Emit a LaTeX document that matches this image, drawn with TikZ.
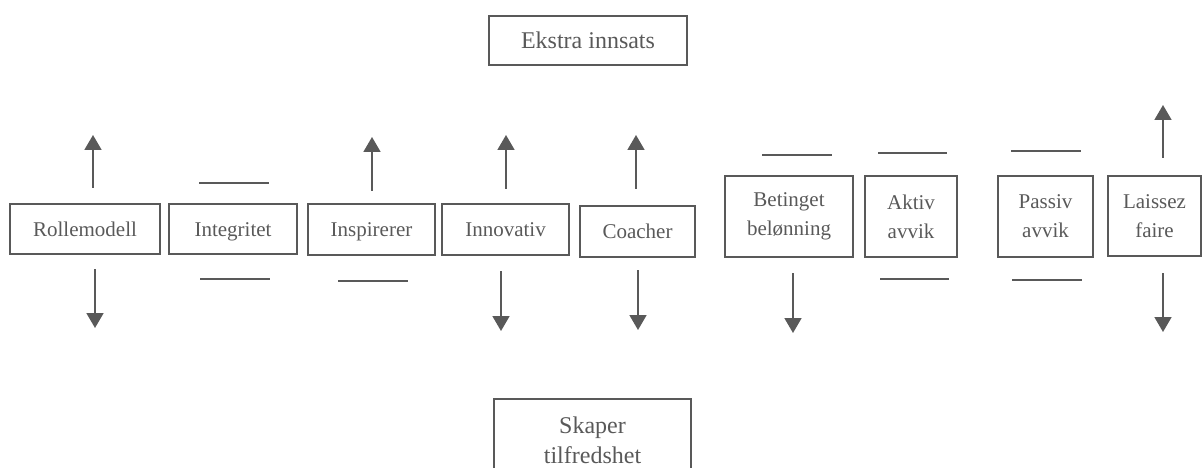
\documentclass[tikz,border=0pt]{standalone}
\usepackage{fontspec}
\setmainfont{Liberation Serif}
\usetikzlibrary{arrows.meta}
\definecolor{ink}{HTML}{595959}
\begin{document}
\begin{tikzpicture}[x=1pt,y=-1pt,
  box/.style={draw=ink,line width=1.8pt,text=ink,inner sep=0pt,align=center,
              font=\fontsize{21}{29}\selectfont},
  one/.style={text height=14.3pt,text depth=0pt},
  big/.style={font=\fontsize{24}{30}\selectfont},
  arr/.style={draw=ink,line width=1.8pt,-{Triangle[width=17pt,length=15pt]}},
  bar/.style={draw=ink,line width=1.8pt}]
\useasboundingbox (0,0) rectangle (1203,468);
\clip (0,0) rectangle (1203,468);

% top and bottom boxes
\node[box,big,minimum width=198,minimum height=49] (ekstra) at (588,40.5) {Ekstra innsats};
\node[box,big,minimum width=197,inner ysep=18,anchor=north] (skaper) at (592.5,397.9) {Skaper\\tilfredshet};

% row of boxes
\node[box,one,minimum width=150,minimum height=50] (rolle) at (85,229) {Rollemodell};
\node[box,one,minimum width=128,minimum height=50] (integ) at (233,229) {Integritet};
\node[box,one,minimum width=127,minimum height=51] (inspi) at (371.5,229.5) {Inspirerer};
\node[box,one,minimum width=127,minimum height=51] (innov) at (505.5,229.5) {Innovativ};
\node[box,one,minimum width=115,minimum height=51] (coach) at (637.5,231.5) {Coacher};
\node[box,minimum width=128,minimum height=81] (betin) at (789,216.5) {Betinget\\belønning};
\node[box,minimum width=92,minimum height=81] (aktiv) at (911,216.5) {Aktiv\\avvik};
\node[box,minimum width=95,minimum height=81] (passi) at (1045.5,216.5) {Passiv\\avvik};
\node[box,minimum width=93,minimum height=80] (laiss) at (1154.5,216) {Laissez\\faire};

% arrow coordinates
\coordinate (rolleU0) at (93,188);   \coordinate (rolleU1) at (93,135);
\coordinate (rolleD0) at (95,269);   \coordinate (rolleD1) at (95,328);
\coordinate (inspiU0) at (372,191);  \coordinate (inspiU1) at (372,137);
\coordinate (innovU0) at (506,189);  \coordinate (innovU1) at (506,135);
\coordinate (innovD0) at (501,271);  \coordinate (innovD1) at (501,331);
\coordinate (coachU0) at (636,189);  \coordinate (coachU1) at (636,135);
\coordinate (coachD0) at (638,270);  \coordinate (coachD1) at (638,330);
\coordinate (betinD0) at (793,273);  \coordinate (betinD1) at (793,333);
\coordinate (laissU0) at (1163,158); \coordinate (laissU1) at (1163,105);
\coordinate (laissD0) at (1163,273); \coordinate (laissD1) at (1163,332);

\draw[arr] (rolleU0) -- (rolleU1);
\draw[arr] (rolleD0) -- (rolleD1);
\draw[arr] (inspiU0) -- (inspiU1);
\draw[arr] (innovU0) -- (innovU1);
\draw[arr] (innovD0) -- (innovD1);
\draw[arr] (coachU0) -- (coachU1);
\draw[arr] (coachD0) -- (coachD1);
\draw[arr] (betinD0) -- (betinD1);
\draw[arr] (laissU0) -- (laissU1);
\draw[arr] (laissD0) -- (laissD1);

% neutral bars
\coordinate (integT0) at (199,183);  \coordinate (integT1) at (269,183);
\coordinate (integB0) at (200,279);  \coordinate (integB1) at (270,279);
\coordinate (inspiB0) at (338,281);  \coordinate (inspiB1) at (408,281);
\coordinate (betinT0) at (762,155);  \coordinate (betinT1) at (832,155);
\coordinate (aktivT0) at (878,153);  \coordinate (aktivT1) at (947,153);
\coordinate (aktivB0) at (880,279);  \coordinate (aktivB1) at (949,279);
\coordinate (passiT0) at (1011,151); \coordinate (passiT1) at (1081,151);
\coordinate (passiB0) at (1012,280); \coordinate (passiB1) at (1082,280);

\draw[bar] (integT0) -- (integT1);
\draw[bar] (integB0) -- (integB1);
\draw[bar] (inspiB0) -- (inspiB1);
\draw[bar] (betinT0) -- (betinT1);
\draw[bar] (aktivT0) -- (aktivT1);
\draw[bar] (aktivB0) -- (aktivB1);
\draw[bar] (passiT0) -- (passiT1);
\draw[bar] (passiB0) -- (passiB1);
\end{tikzpicture}
\end{document}
